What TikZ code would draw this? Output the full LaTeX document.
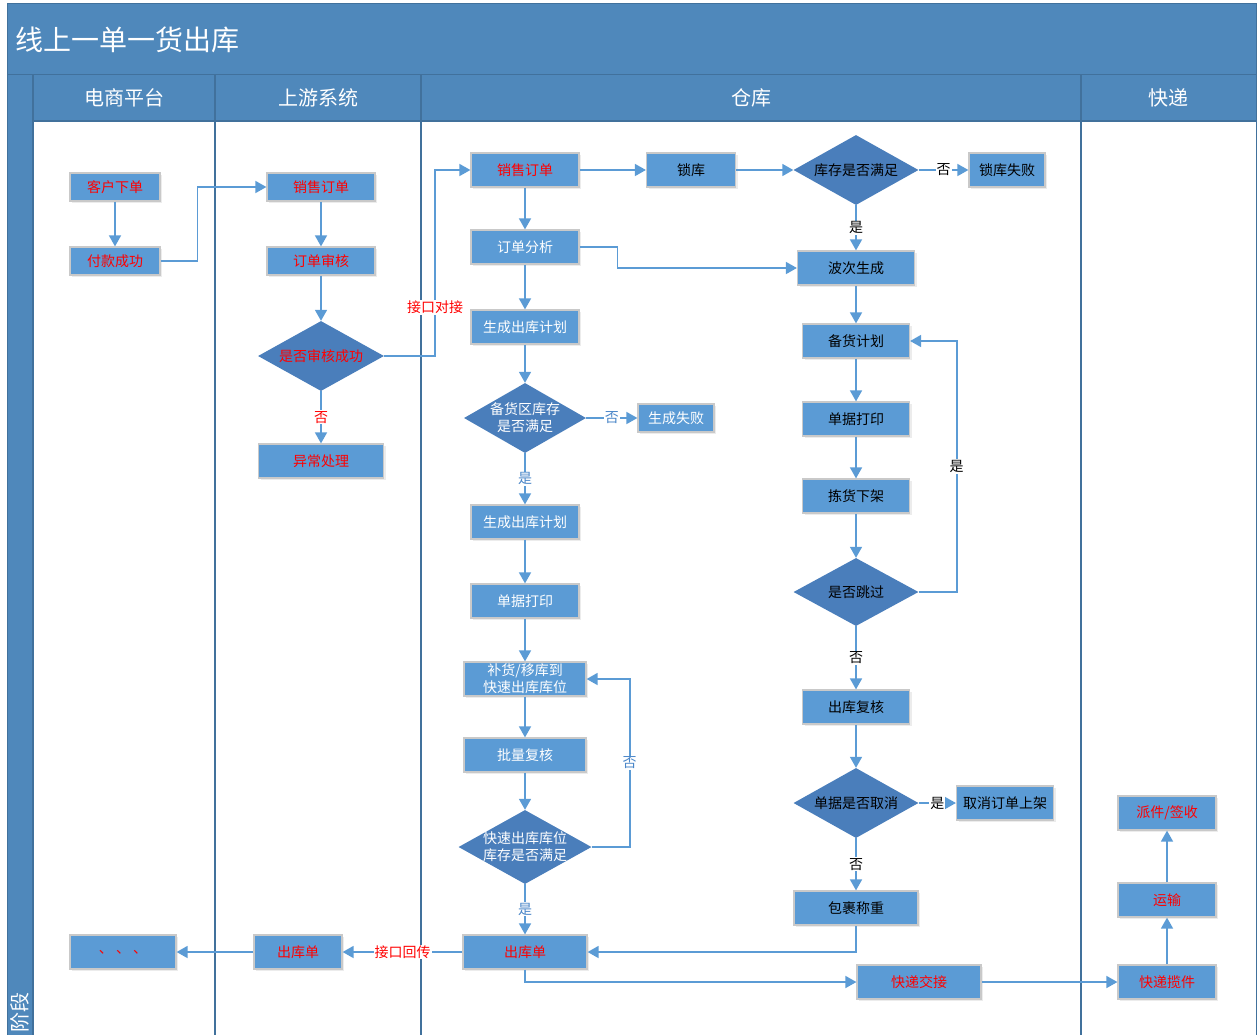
\documentclass[tikz,border=0pt]{standalone}
\usepackage{fontspec}
\setmainfont{Noto Sans CJK SC}
\usetikzlibrary{arrows.meta, shapes.geometric, shadows}
\definecolor{boxblue}{HTML}{5B9BD5}
\definecolor{diablue}{HTML}{4A7EBB}
\definecolor{headblue}{HTML}{4F88BB}
\definecolor{laneline}{HTML}{41719C}
\definecolor{lblblue}{HTML}{4A86C8}
\definecolor{boxedge}{HTML}{C9C9C9}

\begin{document}
\begin{tikzpicture}[x=1pt, y=-1pt, font=\fontsize{14}{17}\selectfont,
  box/.style={draw=boxedge, line width=1.2pt, fill=boxblue, minimum height=34pt,
    inner sep=0pt, align=center,
    drop shadow={opacity=.15, shadow xshift=2pt, shadow yshift=-2pt}},
  dia/.style={diamond, fill=diablue, aspect=2, inner sep=-6pt, align=center,
    minimum width=125pt, minimum height=70pt},
  flow/.style={draw=boxblue, line width=1.6pt, -{Triangle[length=11pt, width=12pt]}},
  lbl/.style={fill=white, inner sep=1pt}]
  \useasboundingbox (0,0) rectangle (1260,1034);
  % --- frame, title and lanes ---
  \fill[headblue] (7,3) rectangle (1256,121);
  \fill[headblue] (7,121) rectangle (33,1040);
  \draw[laneline, line width=1pt] (7,3) rectangle (1256,1040);
  \draw[laneline, line width=1pt] (7,74) -- (1256,74);
  \draw[laneline, line width=1.5pt] (33,121) -- (1256,121);
  \node[white, anchor=west, font=\fontsize{28}{30}\selectfont] (title) at (12,40) {线上一单一货出库};
  \node[white, anchor=west, rotate=90, font=\fontsize{20}{24}\selectfont] (stage) at (20,1036) {阶段};
  \foreach \a/\b/\t in {33/215/电商平台, 215/421/上游系统, 421/1081/仓库, 1081/1256/快递}
    {\node[white, font=\fontsize{20}{24}\selectfont] (h\a) at ({(\a+\b)/2},98) {\t};
     \draw[laneline, line width=1.5pt] (\a,74) -- (\a,1040);}
  % --- e-commerce platform ---
  \node[box, text=red, minimum width=90pt, minimum height=28pt] (c1) at (115,187) {客户下单};
  \node[box, text=red, minimum width=90pt, minimum height=28pt] (c2) at (115,261) {付款成功};
  \node[box, text=red, minimum width=106pt] (c3) at (123,952) {、\ 、\ 、};
  % --- upstream system ---
  \node[box, text=red, minimum width=108pt, minimum height=28pt] (u1) at (321,187) {销售订单};
  \node[box, text=red, minimum width=108pt, minimum height=28pt] (u2) at (321,261) {订单审核};
  \node[dia, text=red, minimum width=126pt] (u3) at (321,356) {是否审核成功};
  \node[box, text=red, minimum width=125pt] (u4) at (321,461) {异常处理};
  \node[box, text=red, minimum width=88pt] (u5) at (298,952) {出库单};
  % --- warehouse, left column ---
  \node[box, text=red, minimum width=108pt] (w1) at (525,170) {销售订单};
  \node[box, minimum width=89pt] (w2) at (691,170) {锁库};
  \node[dia] (w3) at (856,170) {库存是否满足};
  \node[box, minimum width=76pt] (w4) at (1007,170) {锁库失败};
  \node[box, text=white, minimum width=108pt] (a1) at (525,247) {订单分析};
  \node[box, text=white, minimum width=108pt] (a2) at (525,327) {生成出库计划};
  \node[dia, text=white, minimum width=122pt] (a3) at (525,418) {备货区库存\\是否满足};
  \node[box, text=white, minimum width=76pt, minimum height=28pt] (a4) at (676,418) {生成失败};
  \node[box, text=white, minimum width=108pt] (a5) at (525,522) {生成出库计划};
  \node[box, text=white, minimum width=108pt] (a6) at (525,601) {单据打印};
  \node[box, text=white, minimum width=122pt] (a7) at (525,679) {补货/移库到\\快速出库库位};
  \node[box, text=white, minimum width=122pt] (a8) at (525,755) {批量复核};
  \node[dia, text=white, minimum width=133pt, minimum height=74pt] (a9) at (525,847) {快速出库库位\\库存是否满足};
  \node[box, text=red, minimum width=124pt] (a10) at (525,952) {出库单};
  % --- warehouse, right column ---
  \node[box, minimum width=117pt] (b1) at (856,268) {波次生成};
  \node[box, minimum width=107pt] (b2) at (856,341) {备货计划};
  \node[box, minimum width=107pt] (b3) at (856,419) {单据打印};
  \node[box, minimum width=107pt] (b4) at (856,496) {拣货下架};
  \node[dia, minimum height=68pt] (b5) at (856,592) {是否跳过};
  \node[box, minimum width=107pt] (b6) at (856,707) {出库复核};
  \node[dia] (b7) at (856,803) {单据是否取消};
  \node[box, minimum width=97pt] (b8) at (1005,803) {取消订单上架};
  \node[box, minimum width=124pt] (b9) at (856,908) {包裹称重};
  \node[box, text=red, minimum width=124pt] (b10) at (919,982) {快递交接};
  % --- courier ---
  \node[box, text=red, minimum width=98pt] (k1) at (1167,982) {快递揽件};
  \node[box, text=red, minimum width=98pt] (k2) at (1167,900) {运输};
  \node[box, text=red, minimum width=98pt] (k3) at (1167,813) {派件/签收};
  % --- connectors ---
  \coordinate (j1) at (435,170);
  \draw[flow] (c1) -- (c2);
  \draw[flow] (c2.east) -- ++(37,0) |- (u1.west);
  \draw[flow] (u1) -- (u2);
  \draw[flow] (u2) -- (u3);
  \draw[flow] (u3) -- node[lbl, text=red] {否} (u4);
  \draw[flow] (u3.east) -| node[lbl, text=red, pos=.63] {接口对接} (j1) -- (w1.west);
  \draw[flow] (w1) -- (w2);
  \draw[flow] (w2) -- (w3);
  \draw[flow] (w3) -- node[lbl] {否} (w4);
  \draw[flow] (w3) -- node[lbl] {是} (b1);
  \draw[flow] (w1) -- (a1);
  \draw[flow] (a1.east) -- ++(38,0) |- (b1.west);
  \draw[flow] (a1) -- (a2);
  \draw[flow] (a2) -- (a3);
  \draw[flow] (a3) -- node[lbl, text=lblblue] {否} (a4);
  \draw[flow] (a3) -- node[lbl, text=lblblue] {是} (a5);
  \foreach \p/\q in {a5/a6, a6/a7, a7/a8, a8/a9, b1/b2, b2/b3, b3/b4, b4/b5, b6/b7, k1/k2, k2/k3}
    \draw[flow] (\p) -- (\q);
  \draw[flow] (a9.east) -- ++(38,0) |- node[lbl, pos=.25, text=lblblue] {否} (a7.east);
  \draw[flow] (a9) -- node[lbl, text=lblblue] {是} (a10);
  \draw[flow] (b5.east) -- ++(38,0) |- node[lbl, pos=.25] {是} (b2.east);
  \draw[flow] (b5) -- node[lbl] {否} (b6);
  \draw[flow] (b7) -- node[lbl] {是} (b8);
  \draw[flow] (b7) -- node[lbl] {否} (b9);
  \draw[flow] (b9.south) |- (a10.east);
  \draw[flow] (a10) -- node[lbl, text=red] {接口回传} (u5);
  \draw[flow] (u5) -- (c3);
  \draw[flow] (a10.south) |- (b10.west);
  \draw[flow] (b10) -- (k1);
\end{tikzpicture}
\end{document}
